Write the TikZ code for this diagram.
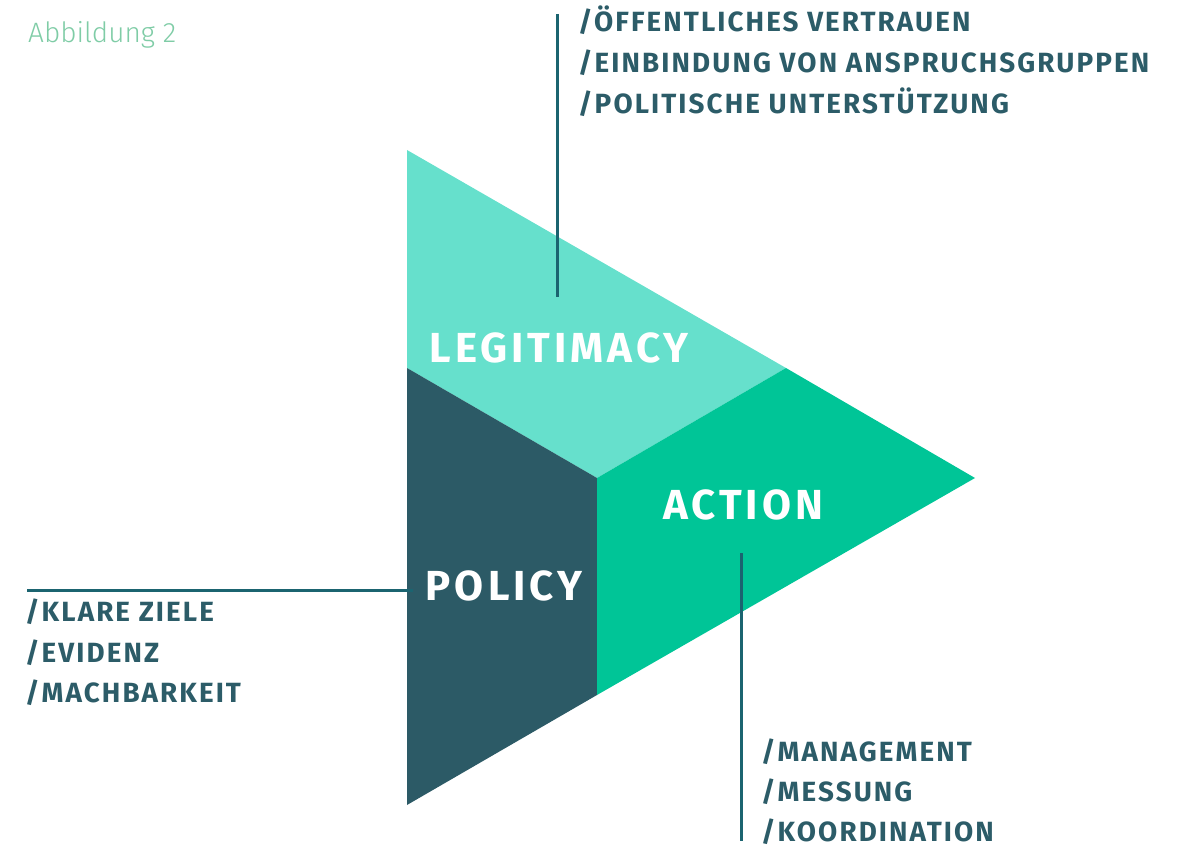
\documentclass[tikz,border=0pt]{standalone}
\usepackage{fontspec}
\setmainfont{Fira Sans}
\newfontfamily\boldface{Fira Sans}[UprightFont=* Bold,LetterSpace=7.5]
\newfontfamily\labelface{Fira Sans}[UprightFont=* Bold,LetterSpace=9.5]
\newfontfamily\lightface{Fira Sans Light}
\definecolor{legitfill}{HTML}{66E0CC}
\definecolor{actionfill}{HTML}{00C597}
\definecolor{policyfill}{HTML}{2C5A66}
\definecolor{leader}{HTML}{1B6470}
\definecolor{listtext}{HTML}{2C5C68}
\definecolor{titletext}{HTML}{7FCCA6}
\begin{document}
\begin{tikzpicture}[x=1pt,y=-1pt,
  regionlabel/.style={text=white,font=\labelface\fontsize{42}{42}\selectfont,inner sep=0pt,anchor=base},
  listline/.style={anchor=base west,text=listtext,font=\boldface\fontsize{27.8}{27.8}\selectfont,inner sep=0pt,text depth=0pt},
  leaderline/.style={draw=leader,line width=3pt}]
\useasboundingbox (0,0) rectangle (1189,845);

% triangle corners and inner division points
\coordinate (top) at (407,150);
\coordinate (bot) at (407,805);
\coordinate (tip) at (975,478);
\coordinate (ctr) at (597,478);
\coordinate (lmid) at (407,368);
\coordinate (umid) at (786,368);
\coordinate (dmid) at (597,695);

\fill[legitfill] (top) -- (umid) -- (ctr) -- (lmid) -- cycle;
\fill[policyfill] (lmid) -- (ctr) -- (dmid) -- (bot) -- cycle;
\fill[actionfill] (ctr) -- (umid) -- (tip) -- (dmid) -- cycle;

\node[regionlabel] (legit) at (559,362) {LEGITIMACY};
\node[regionlabel] (action) at (743,519) {ACTION};
\node[regionlabel] (policy) at (504,600) {POLICY};

\node[anchor=base west,text=titletext,font=\lightface\fontsize{28}{28}\selectfont,inner sep=0pt] (title) at (28,43) {Abbildung 2};

% legitimacy aspects
\node[listline] (l1) at (578,32) {/ÖFFENTLICHES VERTRAUEN};
\node[listline] (l2) at (578,73) {/EINBINDUNG VON ANSPRUCHSGRUPPEN};
\node[listline] (l3) at (578,114) {/POLITISCHE UNTERSTÜTZUNG};

% policy aspects
\node[listline] (p1) at (25,621) {/KLARE ZIELE};
\node[listline] (p2) at (25,662) {/EVIDENZ};
\node[listline] (p3) at (25,702) {/MACHBARKEIT};

% action aspects
\node[listline] (a1) at (761,761) {/MANAGEMENT};
\node[listline] (a2) at (761,801) {/MESSUNG};
\node[listline] (a3) at (761,841) {/KOORDINATION};

% leader lines
\coordinate (legtop) at (557,14);
\coordinate (legend) at (557,297);
\coordinate (polstart) at (27,590);
\coordinate (polend) at (413,590);
\coordinate (actstart) at (741,553);
\coordinate (actend) at (741,841);
\draw[leaderline] (legtop) -- (legend);
\draw[leaderline] (polstart) -- (polend);
\draw[leaderline] (actstart) -- (actend);
\end{tikzpicture}
\end{document}
